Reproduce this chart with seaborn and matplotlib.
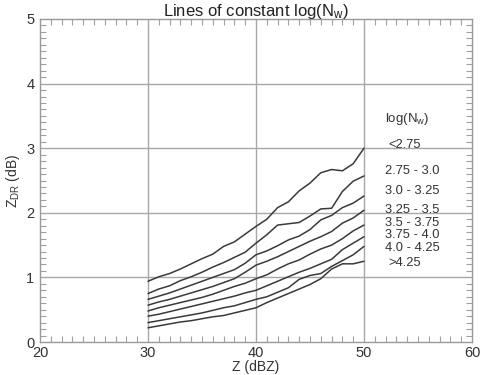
import numpy as np
import pandas as pd
import seaborn as sns
import matplotlib
matplotlib.use("Agg")
import matplotlib.pyplot as plt
from matplotlib.ticker import MultipleLocator

z_dbz = [30, 31, 32, 33, 34, 35, 36, 37, 38, 39, 40, 41, 42, 43, 44, 45, 46, 47, 48, 49, 50]

lt_2_75 = [0.94, 1.01, 1.06, 1.13, 1.21, 1.29, 1.36, 1.48, 1.55, 1.67, 1.79, 1.90, 2.08, 2.17, 2.34, 2.46, 2.62, 2.67, 2.65, 2.76, 3.00]
r_2_75_3_0 = [0.75, 0.82, 0.87, 0.95, 1.01, 1.08, 1.16, 1.23, 1.31, 1.39, 1.53, 1.66, 1.81, 1.83, 1.85, 1.95, 2.06, 2.07, 2.33, 2.49, 2.57]
r_3_0_3_25 = [0.66, 0.71, 0.76, 0.82, 0.88, 0.94, 1.00, 1.06, 1.12, 1.22, 1.35, 1.41, 1.49, 1.58, 1.64, 1.74, 1.89, 1.96, 2.08, 2.15, 2.26]
r_3_25_3_5 = [0.57, 0.62, 0.66, 0.71, 0.76, 0.81, 0.86, 0.92, 0.98, 1.08, 1.19, 1.25, 1.32, 1.40, 1.48, 1.56, 1.63, 1.71, 1.84, 1.92, 2.04]
r_3_5_3_75 = [0.48, 0.53, 0.57, 0.61, 0.65, 0.69, 0.74, 0.80, 0.86, 0.91, 0.98, 1.04, 1.13, 1.21, 1.27, 1.36, 1.44, 1.50, 1.60, 1.72, 1.81]
r_3_75_4_0 = [0.40, 0.43, 0.47, 0.51, 0.55, 0.59, 0.63, 0.67, 0.71, 0.76, 0.80, 0.87, 0.94, 1.01, 1.08, 1.14, 1.21, 1.28, 1.43, 1.53, 1.63]
r_4_0_4_25 = [0.30, 0.33, 0.36, 0.39, 0.42, 0.45, 0.49, 0.53, 0.56, 0.61, 0.66, 0.70, 0.77, 0.84, 0.97, 1.03, 1.06, 1.17, 1.26, 1.35, 1.48]
gt_4_25 = [0.22, 0.25, 0.28, 0.31, 0.33, 0.36, 0.39, 0.41, 0.45, 0.49, 0.53, 0.61, 0.68, 0.75, 0.82, 0.89, 0.98, 1.13, 1.21, 1.21, 1.25]

series_labels = ["<2.75", "2.75 - 3.0", "3.0 - 3.25", "3.25 - 3.5",
                 "3.5 - 3.75", "3.75 - 4.0", "4.0 - 4.25", ">4.25"]
series_values = [lt_2_75, r_2_75_3_0, r_3_0_3_25, r_3_25_3_5,
                 r_3_5_3_75, r_3_75_4_0, r_4_0_4_25, gt_4_25]
label_y = [3.05, 2.65, 2.34, 2.05, 1.84, 1.65, 1.45, 1.23]

x_ticks = [20, 30, 40, 50, 60]
y_ticks = [0, 1, 2, 3, 4, 5]

rows = []
for lab, vals in zip(series_labels, series_values):
    for x, v in zip(z_dbz, vals):
        rows.append({"Z": x, "ZDR": v, "class": lab})
df = pd.DataFrame(rows)

sns.set_style("white")
plt.rcParams['font.family'] = ['Liberation Sans', 'DejaVu Sans']
plt.rcParams['mathtext.fontset'] = 'custom'
plt.rcParams['mathtext.rm'] = 'Liberation Sans'
plt.rcParams['mathtext.it'] = 'Liberation Sans'

fig = plt.figure(figsize=(4.81, 3.75), dpi=100)
ax = fig.add_axes([40/481, 33/375, 432/481, 323/375])

grid_c = '#a8a8a8'
for x in x_ticks[1:-1]:
    ax.axvline(x, color=grid_c, lw=1.0, zorder=1)
for y in y_ticks[1:-1]:
    ax.axhline(y, color=grid_c, lw=1.0, zorder=1)

sns.lineplot(data=df, x="Z", y="ZDR", units="class", estimator=None,
             color='#3a3a3a', lw=1.1, ax=ax, zorder=3)

txt_c = '#333333'
ax.set_xlim(20, 60)
ax.set_ylim(0, 5)
ax.set_xticks(x_ticks)
ax.set_yticks(y_ticks)
ax.xaxis.set_minor_locator(MultipleLocator(1))
ax.yaxis.set_minor_locator(MultipleLocator(0.1))
ax.tick_params(which='major', length=0, labelsize=10.5, pad=4, colors=txt_c)
ax.tick_params(axis='x', which='major', pad=3)
ax.tick_params(which='minor', direction='in', length=4, width=0.8, color='#a0a0a0',
               top=True, right=True, bottom=True, left=True)
for s in ax.spines.values():
    s.set_color('#999999')
    s.set_linewidth(1.0)

ax.set_xlabel("Z (dBZ)", fontsize=10, labelpad=0, color=txt_c)
ax.set_ylabel(r"Z$_{\rm DR}$ (dB)", fontsize=10, labelpad=3, color=txt_c)
ax.set_title(r"Lines of constant log(N$_{\rm w}$)", fontsize=12, pad=2, color='#222222')

ax.text(51.95, 3.45, r"log(N$_{\rm w}$)", fontsize=9.5, va='center', ha='left', color=txt_c)
for lab, ly in zip(series_labels, label_y):
    lx = 52.3 if lab[0] in '<>' else 51.95
    ax.text(lx, ly, lab, fontsize=9.3, va='center', ha='left', color=txt_c)

fig.savefig("out.png", dpi=100)
